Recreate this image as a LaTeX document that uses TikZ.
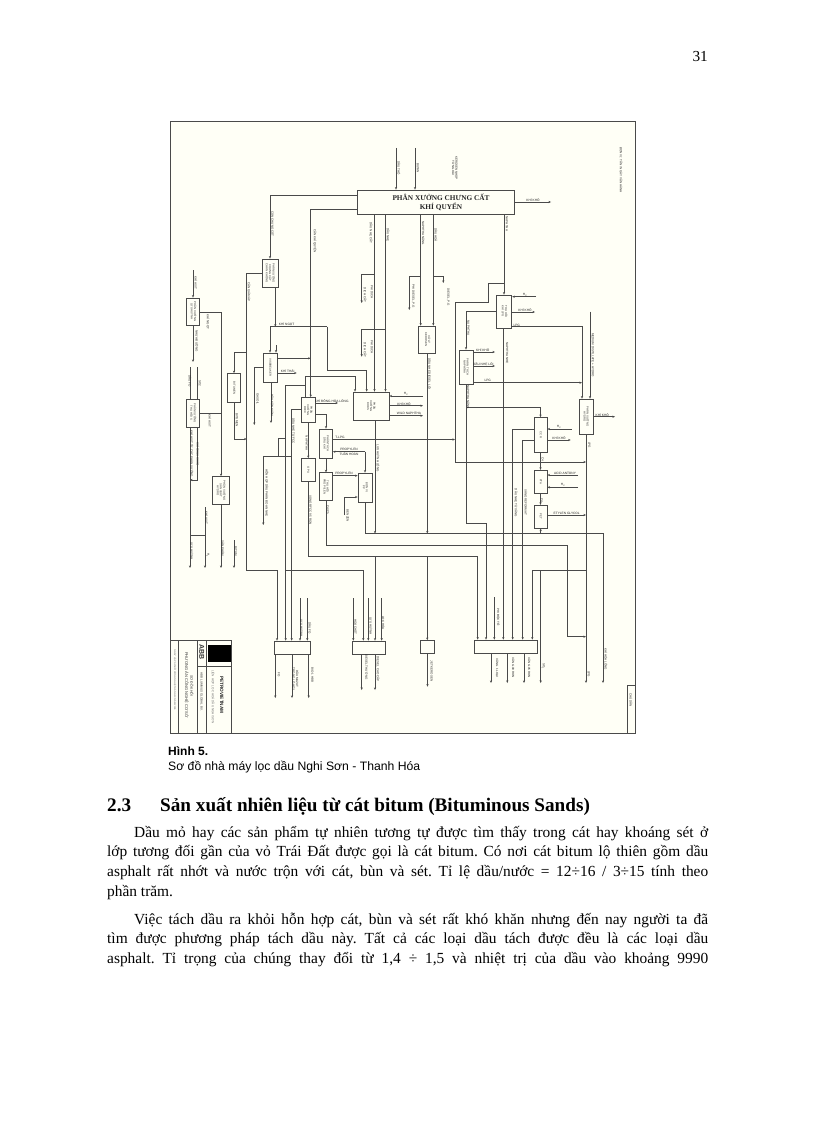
\documentclass[tikz,border=0pt]{standalone}
\usepackage{fontspec}
\usepackage{graphicx}
\setmainfont{Liberation Serif}
\setsansfont{Liberation Sans}
\usepackage{xcolor}
\usetikzlibrary{arrows.meta}
\definecolor{linegray}{HTML}{4A4A4A}
\definecolor{paperyellow}{HTML}{FFFFF6}
\newcommand{\vtxt}[1]{\rotatebox{-90}{\begin{tabular}{@{}c@{}}#1\end{tabular}}}
\frenchspacing
\begin{document}
\begin{tikzpicture}[
  x=1pt, y=-1pt,
  block/.style={
    draw=linegray, line width=0.7pt, align=center, inner sep=0pt,
    font=\sffamily\fontsize{2.8}{3}\selectfont, text=black!80
  },
  flow/.style={draw=linegray, line width=0.65pt},
  arrow/.style={flow, -{Stealth[length=2.6pt,width=2.2pt]}},
  vlab/.style={rotate=-90, inner sep=0pt, align=center, text=black!85,
    font=\sffamily\fontsize{3}{3.4}\selectfont},
  hlab/.style={inner sep=0pt, align=center, text=black!85,
    font=\sffamily\fontsize{3.2}{3.6}\selectfont},
  pagetext/.style={inner sep=0pt, anchor=north west, align=justify, text width=601pt,
    font=\fontsize{15.4}{19.6}\selectfont}
]
\useasboundingbox (0,0) rectangle (816,1123);
\fill[white] (0,0) rectangle (816,1123);
\filldraw[fill=paperyellow, draw=linegray, line width=0.9pt] (170.5,121) rectangle (635,733);

% boxes
\node[block, minimum width=157, minimum height=24, font=\bfseries\fontsize{7.3}{9.2}\selectfont, text=black!85] (main) at (435.5,202) {\hspace*{11pt}PHÂN XƯỞNG CHƯNG CẤT\\\hspace*{11pt}KHÍ QUYỂN};
\node[block, minimum width=16, minimum height=28] (vdu) at (270,273) {\vtxt{PHÂN XƯỞNG\\CHƯNG CẤT\\CHÂN KHÔNG}};
\node[block, minimum width=13, minimum height=27] (sulfur) at (193.3,311.5) {\vtxt{PHÂN XƯỞNG\\LƯU HUỲNH}};
\node[block, minimum width=13, minimum height=28] (srec) at (193,413) {\vtxt{PHÂN XƯỞNG\\THU HỒI S}};
\node[block, minimum width=17, minimum height=28] (hydro) at (221,490.5) {\vtxt{PHÂN XƯỞNG\\SẢN XUẤT\\HYDRO}};
\node[block, minimum width=13, minimum height=29] (bitum) at (234,388) {\vtxt{BITUMEN}};
\node[block, minimum width=14, minimum height=29] (visb) at (270,367.5) {\vtxt{VISBREAKER}};
\node[block, minimum width=14, minimum height=25] (fcc) at (308,410) {\vtxt{PHÂN\\XƯỞNG\\RFCC}};
\node[block, minimum width=14, minimum height=23] (gpu) at (308,470) {\vtxt{GPU}};
\node[block, minimum width=13, minimum height=29] (sepgas) at (326,443.5) {\vtxt{PHÂN TÁCH\\DẦU KHÍ}};
\node[block, minimum width=13, minimum height=28] (prop) at (326,486.7) {\vtxt{THU HỒI\\PROPYLEN}};
\node[block, minimum width=14, minimum height=29] (ppunit) at (365,487.5) {\vtxt{ĐƠN VỊ\\PP}};
\node[block, minimum width=36, minimum height=28] (dhds) at (371,406) {\vtxt{PHÂN\\XƯỞNG\\DHDS}};
\node[block, minimum width=17, minimum height=27] (kero) at (427.3,339.5) {\vtxt{XỬ LÝ\\KEROSEN}};
\node[block, minimum width=15, minimum height=33] (lpgrec) at (504.3,311.5) {\vtxt{THU HỒI\\KHÍ LPG}};
\node[block, minimum width=14, minimum height=34] (napsep) at (466,367) {\vtxt{PHÂN TÁCH\\NAPHTHA}};
\node[block, minimum width=13, minimum height=35] (ccr) at (540.5,435) {\vtxt{CCR}};
\node[block, minimum width=13, minimum height=23] (pta) at (540.5,481.7) {\vtxt{PTA}};
\node[block, minimum width=13, minimum height=23] (pet) at (540.5,516.7) {\vtxt{PET}};
\node[block, minimum width=14, minimum height=35] (hcu) at (586,416.5) {\vtxt{PHÂN XƯỞNG\\HYDRO}};
\node[block, minimum width=36, minimum height=13] (pool1) at (292,647.5) {};
\node[block, minimum width=33, minimum height=13] (pool2) at (368.7,647.5) {};
\node[block, minimum width=14, minimum height=13] (pool3) at (427.5,647) {};
\node[block, minimum width=63, minimum height=13] (pool4) at (505.5,646.5) {};

% free ends and bends
\foreach \cname/\x/\y in {
  crude/396/148, butan/415/148, dry/551/202, rcA/504/283, rcB/488/283, rcC/488/302, rcD/455/302,
  rcE/455/462, rcF/586/462, tlpg/455/439.5, napA/466/407.7, napB/466/523, napC/486/523, napD/486/533.5,
  lineA/603/533.5, lineB/603/683, lineC/375/533.5, lineD/427.3/533.5, lineE/540.7/533.5,
  fuelA/494.3/597, sideA/586/570, sideB/540.7/571, sideC/540.7/683, lowA/567.7/545, lowB/567.7/636.7,
  lowC/586/636.7, lpgEnd/586/683, acid/578/475, hydA/578/487.3, glyc/586/515, ccrH/571.7/429, ccrD/570.7/440,
  lpgH/536/296.7, lpgD/535/312, lpgJ/582/382.7, midA/590/311.7, hcuD/615/416.7,
  napDa/495/352, napDb/495/366, brA/374.5/274, brB/361.7/274, brC/361.7/303, brD/385.5/329.3, brE/361.7/329.3,
  brF/361.7/356.7, kA/420.7/276.7, kB/409.3/276.7, kC/409.3/310, kD/433.3/276.7, kE/443.3/276.7, kF/443.3/283,
  vA/246.7/273, vB/246.7/570, bA/246.7/352.3, bB/234/439, bC/246.7/439,
  wA/275.3/326.7, wB/270/326.7, wC/327.3/326.7, wD/327.3/370.7, wE/366.7/370.7, wF/276/345,
  gA/254.3/367, gB/254.3/425, gC/296.7/373, gD/310.7/358.3, gE/271/423,
  fA/305/376.7, fB/355/376.7, fC/305/385, fD/285.7/385, fE/285.7/570.7, fF/291.7/409,
  mA/291.7/456.3, mB/263.3/456.3, mC/263.3/525, mD/278.3/456.3, mE/278.3/438, mF/285.7/438,
  lA/338/403, rA/326/414.3, tA/308.3/556.7, tB/427.3/556.7, tC/375/556.7, pA/365/451.7, pB/344/515, pC/344/497,
  hA/423/396, hB/423/405.7, hC/423/415.7, sA/193/270, sB/221/312.3, sC/193/362, sD/221/413,
  tE/190/367, tF/197.3/367, uA/197/480, uB/190/480, uC/190/535, uD/205/535, uE/205/507, uF/205/568, uG/190/568,
  uH/221/568, uI/234/540, uJ/234/568,
  inA/300/598, inB/307.3/598, inC/353.3/598, inD/368.3/598, inE/381.7/598,
  outA/275.3/698, outB/292/698, outC/308.7/698, outD/361.7/690, outE/375/690, outF/427.5/686.7,
  outG/491/683, outH/507.3/683, outI/524/683}
  \coordinate (\cname) at (\x,\y);

% connectors from the main column
\draw[arrow] (crude) -- (main.north -| crude);
\draw[arrow] (butan) -- (main.north -| butan);
\draw[arrow] (main.east) -- (dry);
\draw[arrow] (main.south -| rcA) -- (lpgrec.north -| rcA);
\draw[arrow] (rcA) -- (rcB) -- (rcC) -- (rcD) -- (rcE) -- (rcF);
\draw[arrow] (sepgas.east |- tlpg) -- (tlpg);
\draw[arrow] (lpgrec.west) -| (napsep.north);
\draw[arrow] (lpgH) -- (lpgrec.east |- lpgH);
\draw[arrow] (lpgrec.east |- lpgD) -- (lpgD);
\draw[arrow] (lpgrec.east |- 0,326.7) -| (hcu.north -| lpgJ);
\draw[arrow] (napsep.east |- lpgJ) -- (lpgJ);
\draw[arrow] (napsep.east |- napDa) -- (napDa);
\draw[arrow] (napsep.east |- napDb) -- (napDb);
\draw[arrow] (midA) -- (hcu.north -| midA);
\draw[arrow] (hcu.east |- hcuD) -- (hcuD);
\draw[arrow] (napsep.south) -- (napA) -| (ccr.north);
\draw[flow] (napA) -- (napB) -- (napC) -- (napD);
\draw[arrow] (napD) -- (pool4.north -| napD);
\draw[arrow] (ppunit.south) |- (lineA) -- (lineB);
\draw[arrow] (dhds.south -| lineC) -- (lineC);
\draw[arrow] (kero.south -| lineD) -- (lineD);
\draw[arrow] (lineE) -- (pet.south -| lineE);
\draw[arrow] (lpgrec.south -| 503.3,0) -- (pool4.north -| 503.3,0);
\draw[arrow] (ccr.west |- 0,429.3) -| (pool4.north -| 512.7,0);
\draw[arrow] (ccr.west |- 0,440) -| (pool4.north -| 522.7,0);
\draw[arrow] (fuelA) -- (pool4.north -| fuelA);
\draw[arrow] (sideA) -| (pool4.north -| 532.3,0);
\draw[arrow] (sideB) -- (sideC);
\draw[arrow] (hcu.south) -- (lpgEnd);
\draw[arrow] (prop.south) |- (lowA) -- (lowB) -- (lowC);
\draw[arrow] (ccrH) -- (ccr.east |- ccrH);
\draw[arrow] (ccr.east |- ccrD) -- (ccrD);
\draw[arrow] (acid) -- (pta.east |- acid);
\draw[arrow] (hydA) -- (pta.east |- hydA);
\draw[arrow] (pet.east |- glyc) -- (glyc);
\draw[arrow] (ccr.south) -- (pta.north);
\draw[arrow] (pta.south) -- (pet.north);

% naphtha and kerosene cuts
\draw[arrow] (main.south -| brA) -- (dhds.north -| brA);
\draw[arrow] (main.south -| brD) -- (dhds.north -| brD);
\draw[arrow] (brA) -- (brB) -- (brC);
\draw[arrow] (brD) -- (brE) -- (brF);
\draw[arrow] (main.south -| kA) -- (kero.north -| kA);
\draw[arrow] (main.south -| kD) -- (kero.north -| kD);
\draw[arrow] (kA) -- (kB) -- (kC);
\draw[arrow] (kD) -- (kE) -- (kF);

% residue side
\draw[arrow] (main.west |- 0,195) -| (vdu.north);
\draw[arrow] (main.west |- 0,209) -| (fcc.north -| 310.7,0);
\draw[arrow] (vdu.west) -- (vA) -- (vB) -| (pool1.north -| 277,0);
\draw[arrow] (bA) -| (bitum.north);
\draw[arrow] (bitum.south) -- (bB) -- (bC);
\draw[arrow] (vdu.south -| wA) -- (wA);
\draw[arrow] (wB) -- (visb.north -| wB);
\draw[flow] (wB) -- (wC);
\draw[arrow] (wC) -- (wD) -- (wE) -- (dhds.north -| wE);
\draw[arrow] (wF) -- (visb.north -| wF);
\draw[arrow] (visb.west |- gA) -- (gA) -- (gB);
\draw[arrow] (visb.east |- gC) -- (gC);
\draw[arrow] (visb.east |- gD) -- (gD);
\draw[arrow] (visb.south -| gE) -- (gE);
\draw[arrow] (fcc.north -| fA) -- (fA) -- (fB) -- (dhds.north -| fB);
\draw[flow] (fC) -- (fD);
\draw[arrow] (fD) -- (pool1.north -| fD);
\draw[arrow] (fE) -| (pool2.north -| 363.3,0);
\draw[arrow] (fcc.west |- fF) -- (fF) -- (pool1.north -| fF);
\draw[arrow] (mA) -- (mB) -- (mC);
\draw[flow] (mD) -- (mE) -- (mF);
\draw[arrow] (fcc.east |- lA) -- (lA);
\draw[arrow] (fcc.east |- rA) -| (sepgas.north);
\draw[arrow] (fcc.south -| tA) -- (gpu.north -| tA);
\draw[arrow] (gpu.south -| tA) -- (tA) -| (pool4.north -| 477.7,0);
\draw[arrow] (tB) -- (pool3.north -| tB);
\draw[arrow] (tC) -- (pool2.north -| tC);
\draw[arrow] (pA) -- (sepgas.east |- pA);
\draw[arrow] (pA) -- (ppunit.north -| pA);
\draw[arrow] (sepgas.south) -- (prop.north);
\draw[arrow] (prop.east |- 0,475.7) -- (ppunit.west |- 0,475.7);
\draw[arrow] (pB) -- (pC) -- (ppunit.west |- pC);
\draw[arrow] (hA) -- (dhds.east |- hA);
\draw[arrow] (dhds.east |- hB) -- (hB);
\draw[arrow] (dhds.east |- hC) -- (hC);

% left column
\draw[arrow] (sA) -- (sulfur.north -| sA);
\draw[arrow] (sulfur.east |- sB) -- (sB) -- (hydro.north);
\draw[arrow] (sulfur.south -| sC) -- (sC);
\draw[flow] (srec.east |- sD) -- (sD);
\draw[flow] (tE) -- (srec.north -| tE);
\draw[flow] (tF) -- (srec.north -| tF);
\draw[arrow] (srec.south -| uB) -- (uG);
\draw[arrow] (srec.south -| uA) -- (uA) -- (uB);
\draw[flow] (uC) -- (uD);
\draw[arrow] (uE) -- (uF);
\draw[arrow] (hydro.south) -- (uH);
\draw[arrow] (uI) -- (uJ);

% pools
\draw[arrow] (inA) -- (pool1.north -| inA);
\draw[arrow] (inB) -- (pool1.north -| inB);
\draw[arrow] (inC) -- (pool2.north -| inC);
\draw[arrow] (inD) -- (pool2.north -| inD);
\draw[arrow] (inE) -- (pool2.north -| inE);
\draw[arrow] (pool1.south -| outA) -- (outA);
\draw[arrow] (pool1.south -| outB) -- (outB);
\draw[arrow] (pool1.south -| outC) -- (outC);
\draw[arrow] (pool2.south -| outD) -- (outD);
\draw[arrow] (pool2.south -| outE) -- (outE);
\draw[arrow] (pool3.south) -- (outF);
\draw[arrow] (pool4.south -| outG) -- (outG);
\draw[arrow] (pool4.south -| outH) -- (outH);
\draw[arrow] (pool4.south -| outI) -- (outI);

% labels along the lines
\foreach \x/\y/\lbl [count=\i] in {
  399/168/{DẦU THÔ}, 418/168/{BUTAN}, 455/168/{KEROSEN NHẬP\\TỪ NGOÀI}, 507/224/{NAPHTHA},
  272.5/224/{CẶN CHƯNG CẤT}, 315/241/{CẶN KHÍ QUYỂN}, 371/233/{DẦU NHẸ CẤT}, 388/235/{DẦU NHẸ},
  423.3/233/{NAPHTHA NẶNG}, 436/235/{DẦU HOẢ}, 249/292/{CẶN GIẢM ÁP}, 208/322/{KHÍ NGỌT},
  196/283/{KHÍ AXIT}, 196.7/341/{NHỰA ĐƯỜNG}, 190/381/{DẦU FO}, 200/383/{SO2},
  210/421/{KHÍ AXIT}, 192/454/{KHÍ AXIT TỪ CÁC PHÂN XƯỞNG}, 198/454/{KHÍ CHUA KHÁC},
  206.7/518/{KHÍ AXIT}, 192/551/{LƯU HUỲNH}, 223/548/{SẢN PHẨM}, 236/551/{BITUM}, 237/420/{BITUMEN},
  208/555/{H\textsubscript{2}}, 257.7/399/{GASOIL}, 272.3/405/{DẦU CẶN GIẢM}, 266.7/493/{HỖN HỢP DẦU PHÂN ĐOẠN NHẸ},
  293.5/431/{DẦU NHẸ TỪ FCC}, 306.7/443/{NAPHTHA}, 310.7/510/{XĂNG RFCC 95 RON}, 328/510/{C4/C5},
  347.7/516/{BENZEN}, 378.3/458/{LƯU HUỲNH LỎNG}, 371.7/292/{PHI DỊCH}, 365/295/{DỊCH CẤT},
  371.7/347/{PHI DỊCH}, 365/350/{DỊCH CẤT}, 413.3/296/{PHI DIESEL, P.G}, 448.3/297/{DIESEL, P.G},
  429.5/374/{DẦU NHẸ DIESEL LỎI}, 507/353/{NAPHTHA NHẸ}, 468.3/328/{NAPHTHA}, 468.3/397/{NAPHTHA NẶNG},
  516/503/{DẦU NHẸ TỪ XĂNG}, 526/502/{XĂNG REFORMAT}, 542.7/459/{C4}, 542/500/{C4},
  589.3/445/{LPG}, 593/355/{MEDIUM DISTILLATE + HYDRO}, 498.3/617/{PHI ĐỘC TỐ}, 497.3/668/{XĂNG 1 LOẠI},
  513.3/668/{XĂNG 90 RON}, 529.3/668/{XĂNG 95 RON}, 543.3/666/{SO\textsubscript{2}}, 589/674/{LPG},
  606/659/{KHÍ HÓA LỎNG}, 431.7/671/{JET KEROSEN}, 301.7/628/{LƯU HUỲNH}, 310/628/{DẦU FO},
  279/675/{FO}, 295.7/679/{DẦU MAZUT\\TRONG LÒ HƠI}, 312.3/675/{BIO-1 HBB}, 355.7/627/{HOÁ CHẤT},
  371/626/{LƯU HUỲNH}, 383.3/623/{LỌC HÓA}, 366.7/667/{DIESEL THƯỜNG}, 378.3/669/{DIESEL CAO CẤP},
  621/170/{ĐƠN VỊ: TẤN / NGÀY VẬN HÀNH}, 631/700/{CHÚ DẪN}}
  \node[vlab] (vl\i) at (\x,\y) {\lbl};

\foreach \x/\y/\lbl [count=\i] in {
  533/200/{KHÍ KHÔ}, 286.7/324/{KHÍ NGỌT}, 287.7/371/{KHÍ THẢI}, 331.7/401/{KHÍ ĐÔNG HÓA LỎNG},
  340/437.5/{T-LPG}, 349/449.5/{PROPYLEN}, 349/454.5/{TUẦN HOÀN}, 344/473.7/{PROPYLEN},
  406/394/{H\textsubscript{2}}, 404/404/{KHÍ KHÔ}, 409/413.7/{WILD NAPHTHA}, 482.7/350/{KHÍ KHÔ},
  483.3/364/{DẦU NHẸ LỎI}, 487.7/380.7/{LPG}, 525/294.5/{H\textsubscript{2}}, 525/310/{KHÍ KHÔ},
  516.7/325/{LPG}, 559/427/{H\textsubscript{2}}, 559/438/{KHÍ KHÔ}, 565/473/{ACID ANTONY},
  563/485.3/{H\textsubscript{2}}, 566.7/513/{ETYLEN GLYCOL}, 602.3/414.7/{KHÍ KHÔ}}
  \node[hlab] (hl\i) at (\x,\y) {\lbl};

% title block
\draw[linegray, line width=0.8pt] (170.5,640) -- (231.7,640) -- (231.7,733);
\draw[linegray, line width=0.7pt] (178,640) -- (178,733) (197.7,640) -- (197.7,733) (206.7,640) -- (206.7,733) (197.7,666.7) -- (231.7,666.7);
\fill[black] (208.3,645) rectangle (231,661.7);
\draw[linegray, line width=0.7pt] (627.7,733) -- (627.7,685.7) -- (634.5,685.7);
\node[vlab, font=\sffamily\bfseries\fontsize{4.7}{5}\selectfont, text=black!85] (tbowner) at (221.7,695) {PETROVIETNAM};
\node[vlab, font=\sffamily\fontsize{3.1}{3.4}\selectfont, text=black!55] (tbplant) at (213,697) {LIÊN HỢP LỌC HOÁ DẦU NGHI SƠN};
\node[vlab, font=\sffamily\bfseries\fontsize{7}{8}\selectfont, text=black!80] (tbabb) at (201.7,652) {ABB};
\node[vlab, font=\sffamily\fontsize{3}{3.4}\selectfont, text=black!80] (tbfirm) at (201.7,692) {ABB LUMMUS GLOBAL B.V.};
\node[vlab, font=\sffamily\fontsize{3.5}{3.8}\selectfont, text=black!80] (tbkind) at (192,686) {SƠ ĐỒ KHỐI};
\node[vlab, font=\sffamily\fontsize{4}{4.4}\selectfont, text=black!80] (tbname) at (186.7,685) {PHƯƠNG ÁN CÔNG NGHỆ CƠ SỞ};
\node[vlab, font=\sffamily\fontsize{2.4}{2.6}\selectfont, text=black!60] (tbnote) at (175,680) {NGÀY LẬP SƠ ĐỒ CÔNG NGHỆ THÁNG 10 NĂM 2005};

% page text
\node[anchor=base east, inner sep=0pt, font=\fontsize{15.3}{18}\selectfont] (pageno) at (708,62) {31};
\node[anchor=base west, inner sep=0pt, font=\sffamily\bfseries\fontsize{12}{14}\selectfont] (capa) at (168,755) {Hình 5.};
\node[anchor=base west, inner sep=0pt, font=\sffamily\fontsize{12.2}{14}\selectfont] (capb) at (168,770) {Sơ đồ nhà máy lọc dầu Nghi Sơn - Thanh Hóa};
\node[anchor=base west, inner sep=0pt, font=\bfseries\fontsize{19.2}{22}\selectfont] (secno) at (107,811.5) {2.3};
\node[anchor=base west, inner sep=0pt, font=\bfseries\fontsize{19.2}{22}\selectfont] (sectitle) at (160,811.5) {Sản xuất nhiên liệu từ cát bitum (Bituminous Sands)};
\node[pagetext] (para1) at (107,826) {\hspace*{27pt}Dầu mỏ hay các sản phẩm tự nhiên tương tự được tìm thấy trong cát hay khoáng sét ở\linebreak
lớp tương đối gần của vỏ Trái Đất được gọi là cát bitum. Có nơi cát bitum lộ thiên gồm dầu\linebreak
asphalt rất nhớt và nước trộn với cát, bùn và sét. Tỉ lệ dầu/nước = 12÷16 / 3÷15 tính theo\linebreak
phần trăm.};
\node[pagetext] (para2) at (107,912.5) {\hspace*{27pt}Việc tách dầu ra khỏi hỗn hợp cát, bùn và sét rất khó khăn nhưng đến nay người ta đã\linebreak
tìm được phương pháp tách dầu này. Tất cả các loại dầu tách được đều là các loại dầu\linebreak
asphalt. Tỉ trọng của chúng thay đổi từ 1,4 ÷ 1,5 và nhiệt trị của dầu vào khoảng 9990\linebreak};
\end{tikzpicture}
\end{document}
